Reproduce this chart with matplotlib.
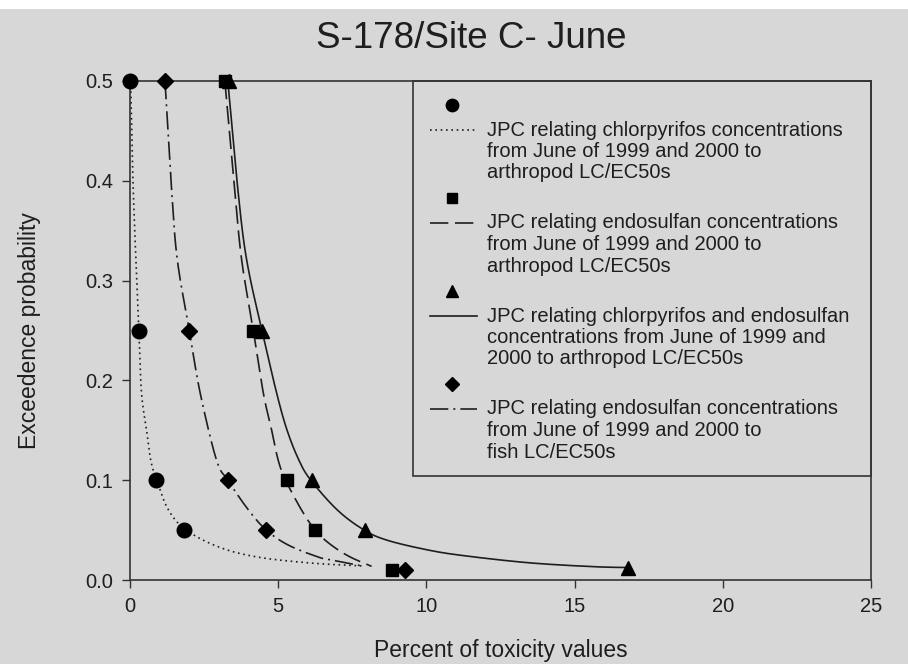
import matplotlib
matplotlib.use("Agg")
import numpy as np
import matplotlib.pyplot as plt
from matplotlib.patches import Rectangle
from matplotlib.lines import Line2D

plt.rcParams['font.family'] = ['Liberation Sans', 'DejaVu Sans']

# observed exceedence points
chlor_pct = [0.0, 0.3, 0.87, 1.82]
chlor_prob = [0.5, 0.25, 0.1, 0.05]
endo_pct = [3.2, 4.16, 5.31, 6.24, 8.84]
endo_prob = [0.5, 0.25, 0.1, 0.05, 0.01]
mix_pct = [3.34, 4.45, 6.13, 7.93, 16.8]
mix_prob = [0.5, 0.25, 0.1, 0.05, 0.012]
fish_pct = [1.18, 2.0, 3.3, 4.6, 9.28]
fish_prob = [0.5, 0.25, 0.1, 0.05, 0.01]

# fitted JPC curves
chlor_curve_x = [0.0, 0.03, 0.1, 0.2, 0.3, 0.39, 0.56, 0.7, 0.9, 1.3, 1.9, 3.0, 4.3, 6.1, 7.9]
chlor_curve_y = [0.5, 0.488, 0.4, 0.32, 0.25, 0.187, 0.15, 0.12, 0.1, 0.07, 0.05, 0.033, 0.023, 0.017, 0.014]
endo_curve_x = [3.2, 3.54, 3.77, 4.16, 4.5, 4.78, 5.0, 5.25, 5.79, 6.24, 6.58, 7.03, 7.5, 8.15]
endo_curve_y = [0.5, 0.388, 0.32, 0.25, 0.187, 0.15, 0.12, 0.1, 0.07, 0.05, 0.04, 0.03, 0.022, 0.0137]
mix_curve_x = [3.3, 3.65, 3.94, 4.45, 4.95, 5.3, 5.7, 6.1, 7.0, 7.9, 8.66, 9.9, 11.1, 13.4, 15.6, 16.8]
mix_curve_y = [0.5, 0.388, 0.32, 0.25, 0.187, 0.15, 0.12, 0.1, 0.07, 0.05, 0.04, 0.031, 0.025, 0.0174, 0.0134, 0.0125]
fish_curve_x = [1.18, 1.41, 1.6, 2.0, 2.37, 2.92, 3.3, 4.0, 4.6, 5.34, 6.35, 6.8, 7.9]
fish_curve_y = [0.5, 0.388, 0.32, 0.25, 0.187, 0.12, 0.1, 0.07, 0.05, 0.035, 0.023, 0.02, 0.0137]

legend_text = [
    ["JPC relating chlorpyrifos concentrations", "from June of 1999 and 2000 to", "arthropod LC/EC50s"],
    ["JPC relating endosulfan concentrations", "from June of 1999 and 2000 to", "arthropod LC/EC50s"],
    ["JPC relating chlorpyrifos and endosulfan", "concentrations from June of 1999 and", "2000 to arthropod LC/EC50s"],
    ["JPC relating endosulfan concentrations", "from June of 1999 and 2000 to", "fish LC/EC50s"],
]

bg = '#d7d7d7'
ink = '#1e1e1e'


def smooth(xs, ys, steps=12):
    # Catmull-Rom spline through the listed curve points, for drawing only
    p = np.column_stack([xs, ys]).astype(float)
    p = np.vstack([p[0], p, p[-1]])
    t = np.linspace(0, 1, steps, endpoint=False)[:, None]
    out = []
    for i in range(1, len(p) - 2):
        p0, p1, p2, p3 = p[i - 1], p[i], p[i + 1], p[i + 2]
        seg = 0.5 * (2 * p1 + (-p0 + p2) * t + (2 * p0 - 5 * p1 + 4 * p2 - p3) * t ** 2
                     + (-p0 + 3 * p1 - 3 * p2 + p3) * t ** 3)
        out.append(seg)
    out.append(p[-2][None, :])
    out = np.vstack(out)
    return out[:, 0], out[:, 1]


fig = plt.figure(figsize=(9.08, 6.64), dpi=100)
fig.patch.set_facecolor('white')
fig.patches.append(Rectangle((0, 0), 1, 1 - 9 / 664, transform=fig.transFigure,
                             facecolor=bg, edgecolor='none', zorder=-10))

ax = fig.add_axes([130 / 908, 84 / 664, 741 / 908, 499 / 664])
ax.set_facecolor(bg)

series = [
    (chlor_curve_x, chlor_curve_y, chlor_pct, chlor_prob, 'o', 10.5, (0, (1, 2.2))),
    (endo_curve_x, endo_curve_y, endo_pct, endo_prob, 's', 9, (0, (11, 4))),
    (mix_curve_x, mix_curve_y, mix_pct, mix_prob, '^', 9.5, '-'),
    (fish_curve_x, fish_curve_y, fish_pct, fish_prob, 'D', 8, (0, (11, 3, 1.2, 3))),
]
for cx, cy, px, py, mk, ms, ls in series:
    sx, sy = smooth(cx, cy)
    ax.plot(sx, sy, color=ink, lw=1.2, ls=ls)
    ax.plot(px, py, ls='none', marker=mk, ms=ms, color='black', zorder=5, clip_on=False)

ax.set_xlim(0, 25)
ax.set_ylim(0, 0.5)
ax.set_xticks([0, 5, 10, 15, 20, 25])
ax.set_yticks([0.0, 0.1, 0.2, 0.3, 0.4, 0.5])
ax.set_yticklabels(['0.0', '0.1', '0.2', '0.3', '0.4', '0.5'])
ax.tick_params(direction='out', length=6, width=1, color='#333333', labelsize=14.5,
               labelcolor=ink, pad=6)
for s in ax.spines.values():
    s.set_color('#333333')
    s.set_linewidth(1.2)

ax.set_xlabel('Percent of toxicity values', fontsize=16.5, color=ink, va='center')
ax.set_ylabel('Exceedence probability', fontsize=16.5, color=ink, va='center')
ax.xaxis.set_label_coords(0.5, -0.142)
ax.yaxis.set_label_coords(-0.135, 0.5)
fig.text(471 / 908, 1 - 38 / 664, 'S-178/Site C- June', fontsize=26.5, color=ink,
         ha='center', va='center')


# legend built by hand: marker row, then line sample beside the text
def fx(px):
    return (px - 130) / 741


def fy(py):
    return (580 - py) / 499


ax.add_patch(Rectangle((fx(413), fy(476)), 1 - fx(413), 1 - fy(476), transform=ax.transAxes,
                       facecolor='none', edgecolor='#333333', lw=1.2, zorder=6, clip_on=False))
for i, (cx, cy, px, py, mk, ms, ls) in enumerate(series):
    top = 105 + i * 93
    ax.add_line(Line2D([fx(452)], [fy(top)], transform=ax.transAxes, ls='none',
                       marker=mk, ms=ms * 0.85, color='black'))
    ax.add_line(Line2D([fx(430), fx(477)], [fy(top + 25)] * 2, transform=ax.transAxes,
                       color=ink, lw=1.2, ls=ls))
    for k, line in enumerate(legend_text[i]):
        ax.text(fx(487), fy(top + 25 + k * 21.5), line, transform=ax.transAxes,
                fontsize=14.5, color=ink, va='center', ha='left')

fig.savefig('out.png', dpi=100, facecolor=fig.get_facecolor())
